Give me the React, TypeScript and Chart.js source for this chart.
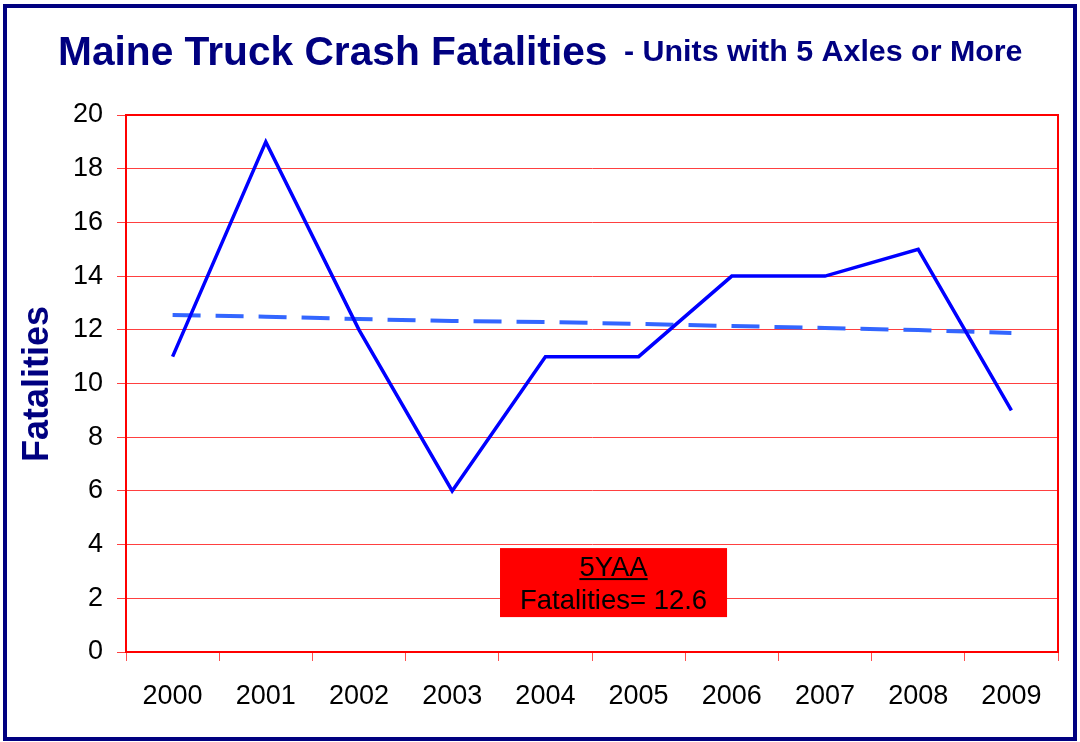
import React, { useEffect, useRef } from 'react';
import { Chart, registerables } from 'chart.js';

Chart.register(...registerables);

const years = ['2000', '2001', '2002', '2003', '2004', '2005', '2006', '2007', '2008', '2009'];
const fatalities = [11, 19, 12, 6, 11, 11, 14, 14, 15, 9];
const trend = [12.55, 12.49, 12.4, 12.33, 12.29, 12.22, 12.14, 12.07, 11.99, 11.88];
const titleMain = 'Maine Truck Crash Fatalities';
const titleSub = '- Units with 5 Axles or More';
const yTitle = 'Fatalities';
const boxHeader = '5YAA';
const boxText = 'Fatalities= 12.6';

const FONT = '"Liberation Sans", Arial, sans-serif';
const NAVY = '#000080';

const decorPlugin = {
  id: 'decor',
  beforeDraw(chart: any) {
    const ctx = chart.ctx;
    ctx.save();
    ctx.fillStyle = '#ffffff';
    ctx.fillRect(0, 0, chart.width, chart.height);
    ctx.strokeStyle = NAVY;
    ctx.lineWidth = 4;
    ctx.strokeRect(5, 6, 1070, 733);
    // titles
    ctx.fillStyle = NAVY;
    ctx.textBaseline = 'alphabetic';
    ctx.textAlign = 'left';
    ctx.font = `bold 40.7px ${FONT}`;
    ctx.fillText(titleMain, 58, 65);
    ctx.font = `bold 30.4px ${FONT}`;
    ctx.fillText(titleSub, 624, 61);
    // y title
    ctx.translate(48, 384);
    ctx.rotate(-Math.PI / 2);
    ctx.textAlign = 'center';
    ctx.font = `bold 36px ${FONT}`;
    ctx.fillText(yTitle, 0, 0);
    ctx.restore();
  },
  afterDraw(chart: any) {
    const ctx = chart.ctx;
    const a = chart.chartArea;
    const y = chart.scales.y;
    ctx.save();
    // plot border top/right
    ctx.strokeStyle = '#ff0000';
    ctx.lineWidth = 2;
    ctx.beginPath();
    ctx.moveTo(a.left, a.top);
    ctx.lineTo(a.right, a.top);
    ctx.lineTo(a.right, a.bottom);
    ctx.stroke();
    // annotation box
    const w = a.right - a.left;
    const bx0 = a.left + w * 0.4013;
    const bx1 = a.left + w * 0.6449;
    const by0 = y.getPixelForValue(3.87);
    const by1 = y.getPixelForValue(1.3);
    ctx.fillStyle = '#ff0000';
    ctx.fillRect(bx0, by0, bx1 - bx0, by1 - by0);
    const cx = (bx0 + bx1) / 2;
    ctx.fillStyle = '#000000';
    ctx.textAlign = 'center';
    ctx.textBaseline = 'alphabetic';
    ctx.font = `27.5px ${FONT}`;
    ctx.fillText(boxHeader, cx, by0 + 28);
    const hw = ctx.measureText(boxHeader).width;
    ctx.fillRect(cx - hw / 2, by0 + 30, hw, 2);
    ctx.fillText(boxText, cx, by0 + 61);
    ctx.restore();
  },
};

export default function App() {
  const ref = useRef<HTMLCanvasElement | null>(null);
  useEffect(() => {
    if (!ref.current) return;
    const chart = new Chart(ref.current, {
      type: 'line',
      data: {
        labels: years,
        datasets: [
          {
            label: 'Fatalities',
            data: fatalities,
            borderColor: '#0000ff',
            borderWidth: 3.5,
            pointRadius: 0,
            tension: 0,
            fill: false,
          },
          {
            label: '5YAA trend',
            data: trend,
            borderColor: '#3366ff',
            borderWidth: 4,
            borderDash: [28, 15],
            pointRadius: 0,
            tension: 0,
            fill: false,
          },
        ],
      },
      options: {
        responsive: false,
        devicePixelRatio: 1,
        animation: false,
        layout: { padding: { left: 0, top: 115, right: 22, bottom: 0 } },
        plugins: { legend: { display: false }, tooltip: { enabled: false }, title: { display: false } },
        scales: {
          x: {
            type: 'category',
            offset: true,
            grid: { offset: true, drawOnChartArea: false, drawTicks: true, tickLength: 9, color: '#ff5050', lineWidth: 1 },
            border: { color: '#ff0000', width: 2 },
            ticks: { color: '#000000', font: { family: FONT, size: 27 }, padding: 19, maxRotation: 0, autoSkip: false },
            afterFit: (s: any) => { s.height = 90; },
          },
          y: {
            min: 0,
            max: 20,
            grid: { color: '#ff4040', lineWidth: 1, tickLength: 9 },
            border: { color: '#ff0000', width: 2 },
            ticks: { stepSize: 2, color: '#000000', font: { family: FONT, size: 27 }, padding: 14 },
            afterFit: (s: any) => { s.width = 126; },
          },
        },
      },
      plugins: [decorPlugin],
    } as any);
    return () => chart.destroy();
  }, []);
  return (
    <div style={{ position: 'fixed', left: 0, top: 0, width: 1080, height: 742, background: '#fff' }}>
      <canvas ref={ref} width={1080} height={742} style={{ display: 'block' }} />
    </div>
  );
}
